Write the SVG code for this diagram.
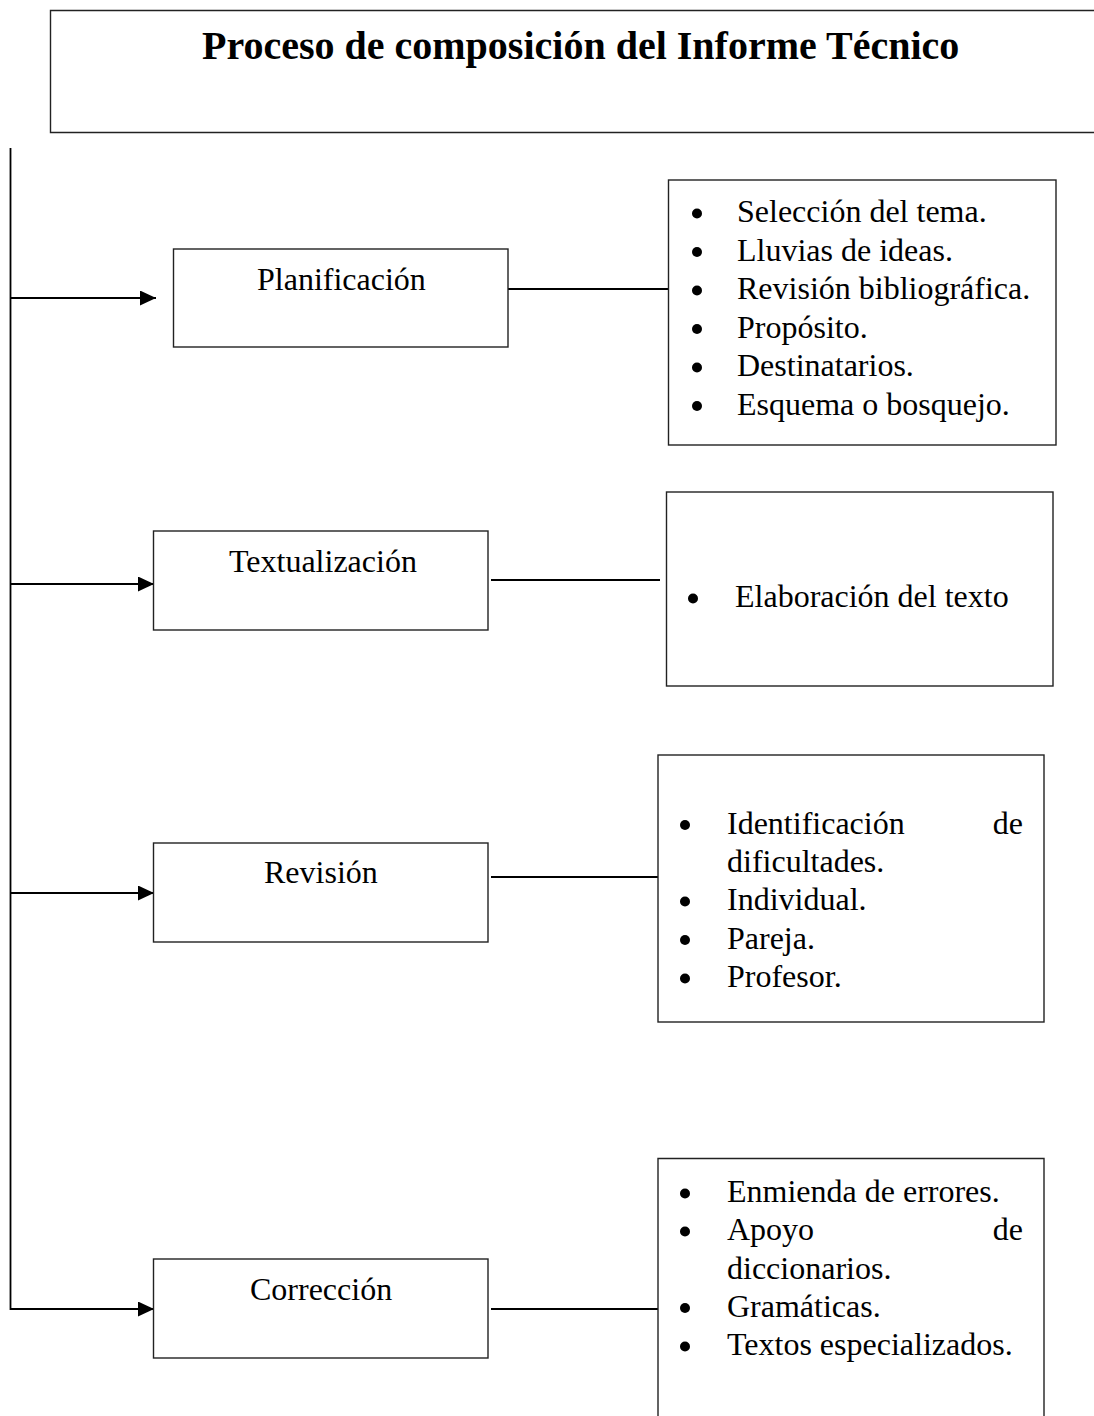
<svg xmlns="http://www.w3.org/2000/svg" width="1094" height="1416" viewBox="0 0 1094 1416">
  <style>
    .box { fill: #ffffff; stroke: #222222; stroke-width: 1.4; }
    .wire { fill: none; stroke: #000000; stroke-width: 1.8; }
    .lbl { font-family: "Liberation Serif", "Times New Roman", serif; font-size: 32px; fill: #000000; }
    .title { font-family: "Liberation Serif", "Times New Roman", serif; font-size: 40px; font-weight: bold; fill: #000000; }
    .dot { fill: #000000; }
  </style>
  <defs>
    <marker id="arrow" viewBox="0 0 16 15" refX="16" refY="7.5" markerWidth="16" markerHeight="15" markerUnits="userSpaceOnUse" orient="auto">
      <path d="M0,0 L16,7.5 L0,15 Z" fill="#000000"/>
    </marker>
  </defs>
  <rect width="1094" height="1416" fill="#ffffff"/>

  <!-- title frame: open on the right edge of the page -->
  <g id="title">
    <path class="box" d="M1100,10.5 H50.5 V132.5 H1100" fill="none"/>
    <text class="title" x="202" y="59">Proceso de composición del Informe Técnico</text>
  </g>

  <!-- connectors -->
  <g id="connectors">
    <path class="wire" d="M10.5,148 V1309 H154" marker-end="url(#arrow)"/>
    <path class="wire" d="M10.5,298 H156" marker-end="url(#arrow)"/>
    <path class="wire" d="M10.5,584 H154" marker-end="url(#arrow)"/>
    <path class="wire" d="M10.5,893 H154" marker-end="url(#arrow)"/>
    <path class="wire" d="M502,289 H668"/>
    <path class="wire" d="M491,580 H660"/>
    <path class="wire" d="M491,877 H658"/>
    <path class="wire" d="M491,1309 H658"/>
  </g>

  <!-- stage nodes -->
  <g id="planificacion">
    <rect class="box" x="173.5" y="249" width="334.5" height="98"/>
    <text class="lbl" x="257" y="290">Planificación</text>
  </g>
  <g id="textualizacion">
    <rect class="box" x="153.5" y="531" width="334.5" height="99"/>
    <text class="lbl" x="229" y="572">Textualización</text>
  </g>
  <g id="revision">
    <rect class="box" x="153.5" y="843" width="334.5" height="99"/>
    <text class="lbl" x="264" y="883">Revisión</text>
  </g>
  <g id="correccion">
    <rect class="box" x="153.5" y="1259" width="334.5" height="99"/>
    <text class="lbl" x="250" y="1300">Corrección</text>
  </g>

  <!-- detail lists -->
  <g id="lista-planificacion">
    <rect class="box" x="668.5" y="180" width="387.5" height="265"/>
    <circle class="dot" cx="697" cy="213.5" r="5"/>
    <text class="lbl" x="737" y="222">Selección del tema.</text>
    <circle class="dot" cx="697" cy="252" r="5"/>
    <text class="lbl" x="737" y="260.5">Lluvias de ideas.</text>
    <circle class="dot" cx="697" cy="290.5" r="5"/>
    <text class="lbl" x="737" y="299">Revisión bibliográfica.</text>
    <circle class="dot" cx="697" cy="329" r="5"/>
    <text class="lbl" x="737" y="337.5">Propósito.</text>
    <circle class="dot" cx="697" cy="367.5" r="5"/>
    <text class="lbl" x="737" y="376">Destinatarios.</text>
    <circle class="dot" cx="697" cy="406" r="5"/>
    <text class="lbl" x="737" y="414.5">Esquema o bosquejo.</text>
  </g>
  <g id="lista-textualizacion">
    <rect class="box" x="666.5" y="492" width="386.5" height="194"/>
    <circle class="dot" cx="693" cy="598.5" r="5"/>
    <text class="lbl" x="735" y="607">Elaboración del texto</text>
  </g>
  <g id="lista-revision">
    <rect class="box" x="658" y="755" width="386" height="267"/>
    <circle class="dot" cx="685" cy="825" r="5"/>
    <text class="lbl" x="727" y="833.5">Identificación</text>
    <text class="lbl" x="1023" y="833.5" text-anchor="end">de</text>
    <text class="lbl" x="727" y="872">dificultades.</text>
    <circle class="dot" cx="685" cy="901.5" r="5"/>
    <text class="lbl" x="727" y="910">Individual.</text>
    <circle class="dot" cx="685" cy="940" r="5"/>
    <text class="lbl" x="727" y="948.5">Pareja.</text>
    <circle class="dot" cx="685" cy="978.5" r="5"/>
    <text class="lbl" x="727" y="987">Profesor.</text>
  </g>
  <g id="lista-correccion">
    <path class="box" d="M658,1420 V1158.5 H1044 V1420" fill="none"/>
    <circle class="dot" cx="685" cy="1193.5" r="5"/>
    <text class="lbl" x="727" y="1202">Enmienda de errores.</text>
    <circle class="dot" cx="685" cy="1231.5" r="5"/>
    <text class="lbl" x="727" y="1240">Apoyo</text>
    <text class="lbl" x="1023" y="1240" text-anchor="end">de</text>
    <text class="lbl" x="727" y="1278.5">diccionarios.</text>
    <circle class="dot" cx="685" cy="1308" r="5"/>
    <text class="lbl" x="727" y="1316.5">Gramáticas.</text>
    <circle class="dot" cx="685" cy="1346.5" r="5"/>
    <text class="lbl" x="727" y="1355">Textos especializados.</text>
  </g>
</svg>
